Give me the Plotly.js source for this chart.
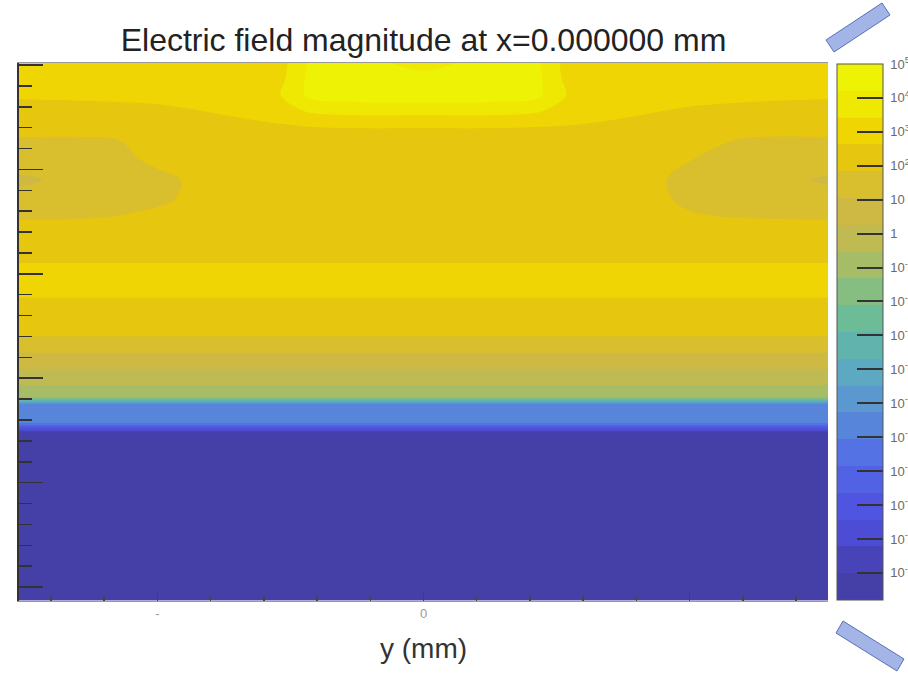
<!DOCTYPE html>
<html>
<head>
<meta charset="utf-8">
<script src="https://cdn.plot.ly/plotly-3.0.1.min.js"></script>
<style>html,body{margin:0;padding:0;background:#fff;}#chart{width:908px;height:675px;}</style>
</head>
<body>
<div id="chart"></div>
<script>
// horizontal coordinate: y (mm)
const yMm = [-1.52, -1.26, -1.0, -0.75, -0.55, -0.42, -0.25, 0, 0.25, 0.42, 0.55, 0.75, 1.0, 1.26, 1.52];
// vertical coordinate (mm)
const zMm = [5.02, 4.86, 4.71, 4.57, 4.43, 4.28, 4.09, 3.90, 3.71, 3.56, 3.40, 3.23, 2.98,
             2.85, 2.69, 2.48, 2.33, 2.16, 2.00, 1.87, 1.82, 1.75, 1.58, 1.47, 0.83, -0.13];
// log10 of |E|, one row per zMm value
const logE = [
  [3.0, 3.0, 3.0, 3.0, 3.0, 4.4, 4.6, 3.85, 4.6, 4.4, 3.0, 3.0, 3.0, 3.0, 3.0],
  [3.0, 3.0, 3.0, 3.0, 3.1, 4.5, 4.6, 4.6, 4.6, 4.5, 3.1, 3.0, 3.0, 3.0, 3.0],
  [2.75, 2.8, 2.9, 3.0, 3.3, 4.45, 4.55, 4.6, 4.55, 4.45, 3.3, 3.0, 2.9, 2.8, 2.75],
  [2.3, 2.35, 2.45, 2.75, 3.0, 3.6, 3.8, 3.8, 3.8, 3.6, 3.0, 2.8, 2.55, 2.4, 2.3],
  [2.2, 2.2, 2.25, 2.4, 2.6, 2.7, 2.75, 2.75, 2.75, 2.7, 2.65, 2.5, 2.35, 2.2, 2.2],
  [1.75, 1.75, 1.95, 2.2, 2.25, 2.25, 2.25, 2.25, 2.25, 2.25, 2.25, 2.2, 2.0, 1.75, 1.75],
  [1.45, 1.5, 1.95, 2.1, 2.25, 2.25, 2.25, 2.25, 2.25, 2.25, 2.25, 2.1, 1.85, 1.5, 1.45],
  [0.9, 1.35, 1.7, 2.1, 2.25, 2.25, 2.25, 2.25, 2.25, 2.25, 2.25, 2.1, 1.7, 1.35, 0.95],
  [1.35, 1.45, 1.75, 2.1, 2.25, 2.25, 2.25, 2.25, 2.25, 2.25, 2.25, 2.1, 1.75, 1.45, 1.35],
  [1.7, 1.75, 1.95, 2.2, 2.25, 2.25, 2.25, 2.25, 2.25, 2.25, 2.25, 2.2, 1.88, 1.75, 1.7],
  [2.25, 2.25, 2.25, 2.25, 2.25, 2.25, 2.25, 2.25, 2.25, 2.25, 2.25, 2.25, 2.25, 2.25, 2.25],
  [2.25, 2.25, 2.25, 2.25, 2.25, 2.25, 2.25, 2.25, 2.25, 2.25, 2.25, 2.25, 2.25, 2.25, 2.25],
  [3.0, 3.0, 3.0, 3.0, 3.0, 3.0, 3.0, 3.0, 3.0, 3.0, 3.0, 3.0, 3.0, 3.0, 3.0],
  [3.0, 3.0, 3.0, 3.0, 3.0, 3.0, 3.0, 3.0, 3.0, 3.0, 3.0, 3.0, 3.0, 3.0, 3.0],
  [2.25, 2.25, 2.25, 2.25, 2.25, 2.25, 2.25, 2.25, 2.25, 2.25, 2.25, 2.25, 2.25, 2.25, 2.25],
  [2.25, 2.25, 2.25, 2.25, 2.25, 2.25, 2.25, 2.25, 2.25, 2.25, 2.25, 2.25, 2.25, 2.25, 2.25],
  [1.45, 1.45, 1.45, 1.45, 1.45, 1.45, 1.45, 1.45, 1.45, 1.45, 1.45, 1.45, 1.45, 1.45, 1.45],
  [0.65, 0.65, 0.65, 0.65, 0.65, 0.65, 0.65, 0.65, 0.65, 0.65, 0.65, 0.65, 0.65, 0.65, 0.65],
  [-0.15, -0.15, -0.15, -0.15, -0.15, -0.15, -0.15, -0.15, -0.15, -0.15, -0.15, -0.15, -0.15, -0.15, -0.15],
  [-0.9, -0.9, -0.9, -0.9, -0.9, -0.9, -0.9, -0.9, -0.9, -0.9, -0.9, -0.9, -0.9, -0.9, -0.9],
  [-0.95, -0.95, -0.95, -0.95, -0.95, -0.95, -0.95, -0.95, -0.95, -0.95, -0.95, -0.95, -0.95, -0.95, -0.95],
  [-5.65, -5.65, -5.65, -5.65, -5.65, -5.65, -5.65, -5.65, -5.65, -5.65, -5.65, -5.65, -5.65, -5.65, -5.65],
  [-5.7, -5.7, -5.7, -5.7, -5.7, -5.7, -5.7, -5.7, -5.7, -5.7, -5.7, -5.7, -5.7, -5.7, -5.7],
  [-10.4, -10.4, -10.4, -10.4, -10.4, -10.4, -10.4, -10.4, -10.4, -10.4, -10.4, -10.4, -10.4, -10.4, -10.4],
  [-10.4, -10.4, -10.4, -10.4, -10.4, -10.4, -10.4, -10.4, -10.4, -10.4, -10.4, -10.4, -10.4, -10.4, -10.4],
  [-10.4, -10.4, -10.4, -10.4, -10.4, -10.4, -10.4, -10.4, -10.4, -10.4, -10.4, -10.4, -10.4, -10.4, -10.4]
];
// colour-bar ticks (log10 values) and their labels
const cbTickVals = [5, 4, 3, 2, 1, 0, -1, -2, -3, -4, -5, -6, -7, -8, -9, -10];
const cbTickText = [' 10<sup>5</sup>', ' 10<sup>4</sup>', ' 10<sup>3</sup>', ' 10<sup>2</sup>', ' 10', ' 1',
  ' 10<sup>-1</sup>', ' 10<sup>-2</sup>', ' 10<sup>-3</sup>', ' 10<sup>-4</sup>', ' 10<sup>-5</sup>',
  ' 10<sup>-6</sup>', ' 10<sup>-7</sup>', ' 10<sup>-8</sup>', ' 10<sup>-9</sup>', ' 10<sup>-10</sup>'];
const xTickVals = [-1, 0, 1];
const xTickText = ['-', '0', ''];

// level colours, lowest band first
const levelColors = ['#453fa8', '#4a46c6', '#4f50dc', '#5058e4', '#5266e6', '#5476e2', '#5888d8',
  '#5a9ace', '#5caac0', '#60b4ac', '#6cbc98', '#84be84', '#a4bc68', '#bcba54', '#ccb848',
  '#d6bc36', '#e2c214', '#eecf04', '#f0e000', '#eef204'];
const nLev = levelColors.length;
const cStart = -10.8, cSize = 0.79;
const colorscale = [];
for (let j = 0; j <= nLev + 1; j++) {
  const c = levelColors[Math.min(nLev - 1, Math.max(0, j - 1))];
  colorscale.push([j / (nLev + 1), c]);
}

const W = 908, H = 675, mL = 19, mR = 80, mT = 63, mB = 74;
const pw = W - mL - mR, ph = H - mT - mB;
function px(x) { return (x - mL) / pw; }
function py(y) { return (H - mB - y) / ph; }
function poly(pts) { return 'M' + pts.map(p => px(p[0]) + ',' + py(p[1])).join('L') + 'Z'; }

const trace = {
  type: 'contour',
  x: yMm, y: zMm, z: logE,
  colorscale: colorscale,
  autocontour: false,
  contours: { start: cStart, end: cStart + cSize * nLev, size: cSize, coloring: 'fill', showlines: false },
  line: { width: 0 },
  zmin: cStart, zmax: cStart + cSize * nLev,
  colorbar: {
    x: px(837), xanchor: 'left', xpad: 0, y: 0.5, yanchor: 'middle', len: 1, ypad: 1,
    thickness: 46, outlinewidth: 1, outlinecolor: '#555',
    tickmode: 'array', tickvals: cbTickVals, ticktext: cbTickText,
    ticks: 'inside', ticklen: 26, tickwidth: 2, tickcolor: '#333',
    tickfont: { family: 'Liberation Sans, Arial, sans-serif', size: 13, color: '#6a6a6a' }
  },
  hoverinfo: 'skip'
};

const layout = {
  width: W, height: H,
  margin: { l: mL, r: mR, t: mT, b: mB, pad: 0, autoexpand: false },
  paper_bgcolor: '#fff', plot_bgcolor: '#fff',
  font: { family: 'Liberation Sans, Arial, sans-serif' },
  title: {
    text: 'Electric field magnitude at x=0.000000 mm',
    font: { family: 'Liberation Sans, Arial, sans-serif', size: 32, color: '#222' },
    x: 0.5, xref: 'paper', xanchor: 'center', y: 1 - 40 / H, yref: 'container', yanchor: 'middle'
  },
  xaxis: {
    range: [-1.52, 1.52], tickmode: 'array', tickvals: xTickVals, ticktext: xTickText,
    ticks: 'inside', ticklen: 9, tickwidth: 1.5, tickcolor: '#444',
    minor: { dtick: 0.2, tick0: 0, ticks: 'inside', ticklen: 5, tickcolor: '#444', showgrid: false },
    showgrid: false, zeroline: false, showline: true, linecolor: '#999', linewidth: 1, mirror: true,
    tickfont: { size: 13, color: '#999' },
    title: { text: 'y (mm)', font: { size: 28, color: '#333' }, standoff: 18 },
    automargin: false
  },
  yaxis: {
    range: [-0.134, 5.02], dtick: 1, tick0: 0,
    ticks: 'inside', ticklen: 24, tickwidth: 1.5, tickcolor: '#333',
    minor: { dtick: 0.2, tick0: 0, ticks: 'inside', ticklen: 13, tickcolor: '#333', showgrid: false },
    showgrid: false, zeroline: false, showline: true, linecolor: '#333', linewidth: 2,
    showticklabels: false, automargin: false
  },
  shapes: [
    { type: 'path', xref: 'paper', yref: 'paper', path: poly([[826, 40], [834, 52], [890, 15], [882, 3]]),
      fillcolor: '#a3b5e6', line: { color: '#5a70b8', width: 1 } },
    { type: 'path', xref: 'paper', yref: 'paper', path: poly([[843, 621], [836, 633], [897, 671], [904, 659]]),
      fillcolor: '#a3b5e6', line: { color: '#5a70b8', width: 1 } }
  ],
  showlegend: false
};

Plotly.newPlot('chart', [trace], layout, { displayModeBar: false, staticPlot: true });
</script>
</body>
</html>
